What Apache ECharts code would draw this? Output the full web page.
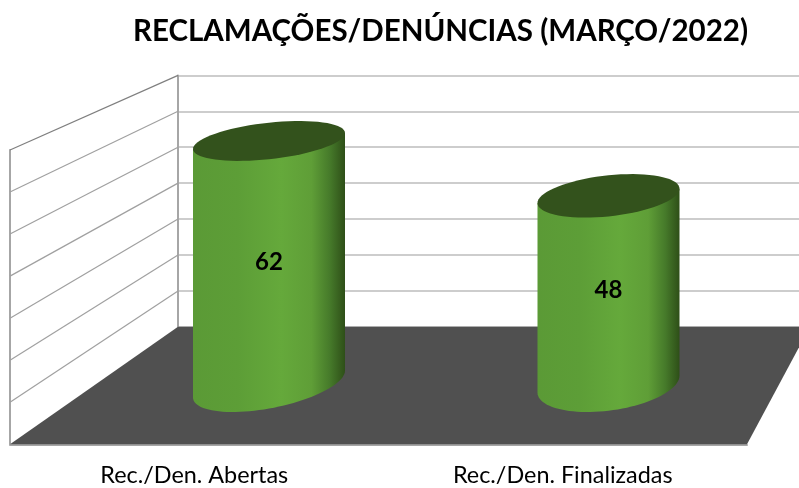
<!DOCTYPE html>
<html><head><meta charset="utf-8">
<style>html,body{margin:0;padding:0;background:#fff}#c{width:799px;height:488px}</style>
<script src="https://cdn.jsdelivr.net/npm/echarts@6/dist/echarts.min.js"></script>
</head><body><div id="c"></div>
<script>
const titleText = 'RECLAMAÇÕES/DENÚNCIAS (MARÇO/2022)';
const categories = ['Rec./Den. Abertas', 'Rec./Den. Finalizadas'];
const values = [62, 48];
const yTicks = [0, 10, 20, 30, 40, 50, 60, 70];
const yMax = 70, yStep = 10;

// layout of the three planes of the pseudo-3D box
const FRONT = {left: 10, top: 150, width: 737, height: 294.3};
const BACK = {left: 178, top: 75.4, width: 632, height: 251.4};
const MID = {left: 99.25, top: 109.6, width: 679, height: 274.4};
// cylinder drawing styles
const cyl = [
  {radius: 76, skewTop: 0.40, skewBase: 0.48},
  {radius: 71, skewTop: 0.33, skewBase: 0.30}
];
const baseMinor = 28, minorShrink = 0.13;
const FONT = 'Lato, Carlito, "Open Sans", sans-serif';

function ellipse(cx, cy, R, b, skew, from, to, n) {
  const phi = Math.asin(skew), a = R * Math.cos(phi), bb = R * skew, pts = [];
  for (let i = 0; i <= n; i++) {
    const t = phi + from + (to - from) * i / n;
    pts.push([cx + a * Math.cos(t) + bb * Math.sin(t), cy - b * Math.sin(t)]);
  }
  return pts;
}

const chart = echarts.init(document.getElementById('c'), null, {renderer: 'canvas'});
const hiddenCat = {type: 'category', data: categories, axisLine: {show: false}, axisTick: {show: false}, axisLabel: {show: false}, splitLine: {show: false}};
const hiddenVal = {type: 'value', min: 0, max: yMax, interval: yStep, axisLine: {show: false}, axisTick: {show: false}, axisLabel: {show: false}, splitLine: {show: false}};

chart.setOption({
  animation: false,
  backgroundColor: '#fff',
  title: {text: titleText, left: 435.5, top: 11, textAlign: 'center',
    textStyle: {fontFamily: FONT, fontWeight: 'bold', fontSize: 29.5, color: '#000'}},
  grid: [
    Object.assign({}, FRONT),
    Object.assign({}, BACK),
    Object.assign({}, MID)
  ],
  xAxis: [
    {gridIndex: 0, type: 'category', data: categories, axisTick: {show: false},
      axisLine: {show: true, onZero: false, lineStyle: {color: '#a6a6a6', width: 2}},
      axisLabel: {margin: 20, fontFamily: FONT, fontSize: 23.4, color: '#000'}, splitLine: {show: false}},
    Object.assign({gridIndex: 1}, hiddenCat),
    Object.assign({gridIndex: 2}, hiddenCat)
  ],
  yAxis: [
    Object.assign({gridIndex: 0}, hiddenVal, {axisLine: {show: true, lineStyle: {color: '#a6a6a6', width: 2}}}),
    Object.assign({gridIndex: 1}, hiddenVal, {axisLine: {show: true, lineStyle: {color: '#a6a6a6', width: 2}},
      splitLine: {show: true, lineStyle: {color: '#bdbdbd', width: 1.5}}}),
    Object.assign({gridIndex: 2}, hiddenVal)
  ],
  series: [
    { // floor
      type: 'custom', xAxisIndex: 0, yAxisIndex: 0, z: 1, silent: true, clip: false,
      data: [0],
      renderItem(params, api) {
        const s = params.coordSys, y0 = api.coord([0, api.value(0)])[1];
        return {type: 'polygon', shape: {points: [
          [s.x, y0], [s.x + s.width, y0],
          [BACK.left + BACK.width, BACK.top + BACK.height], [BACK.left, BACK.top + BACK.height]
        ]}, style: {fill: '#505050'}};
      }
    },
    { // side wall lines
      type: 'custom', xAxisIndex: 0, yAxisIndex: 0, z: 2, silent: true, clip: false,
      data: yTicks.map(v => [v]),
      renderItem(params, api) {
        const v = api.value(0), s = params.coordSys;
        const y = api.coord([0, v])[1];
        const yb = BACK.top + BACK.height * (1 - v / yMax);
        return {type: 'line', shape: {x1: s.x, y1: y, x2: BACK.left, y2: yb},
          style: {stroke: v === yMax ? '#7f7f7f' : '#a0a0a0', lineWidth: 1.2, opacity: v === 0 ? 0 : 1}};
      }
    },
    { // cylinders
      type: 'custom', xAxisIndex: 2, yAxisIndex: 2, z: 3, silent: true, clip: false,
      data: values.map((v, i) => [i, v]),
      renderItem(params, api) {
        const i = api.value(0), v = api.value(1), c = cyl[i];
        const base = api.coord([i, 0]), top = api.coord([i, v]), mid = api.coord([i, v / 2]);
        const bTop = baseMinor - minorShrink * v;
        const lower = ellipse(base[0], base[1], c.radius, baseMinor, c.skewBase, Math.PI, 2 * Math.PI, 48);
        const rim = ellipse(top[0], top[1], c.radius, bTop, c.skewTop, 0, Math.PI, 1);
        const tr = rim[0], tl = rim[1];
        const cap = ellipse(top[0], top[1], c.radius, bTop, c.skewTop, 0, 2 * Math.PI, 72);
        return {type: 'group', children: [
          {type: 'polygon', shape: {points: lower.concat([tr, tl])},
            style: {fill: new echarts.graphic.LinearGradient(0, 0, 1, 0, [
              {offset: 0, color: '#5b9a36'}, {offset: 0.3, color: '#5d9e37'},
              {offset: 0.58, color: '#65a93b'}, {offset: 0.78, color: '#5f9e37'},
              {offset: 0.9, color: '#467a2a'}, {offset: 1, color: '#2e4f18'}])}},
          {type: 'polygon', shape: {points: cap}, style: {fill: '#33521c'}},
          {type: 'text', style: {text: String(v), x: mid[0], y: mid[1], align: 'center', verticalAlign: 'middle',
            fontFamily: FONT, fontWeight: 'bold', fontSize: 24, fill: '#000'}}
        ]};
      }
    }
  ]
});
</script></body></html>
